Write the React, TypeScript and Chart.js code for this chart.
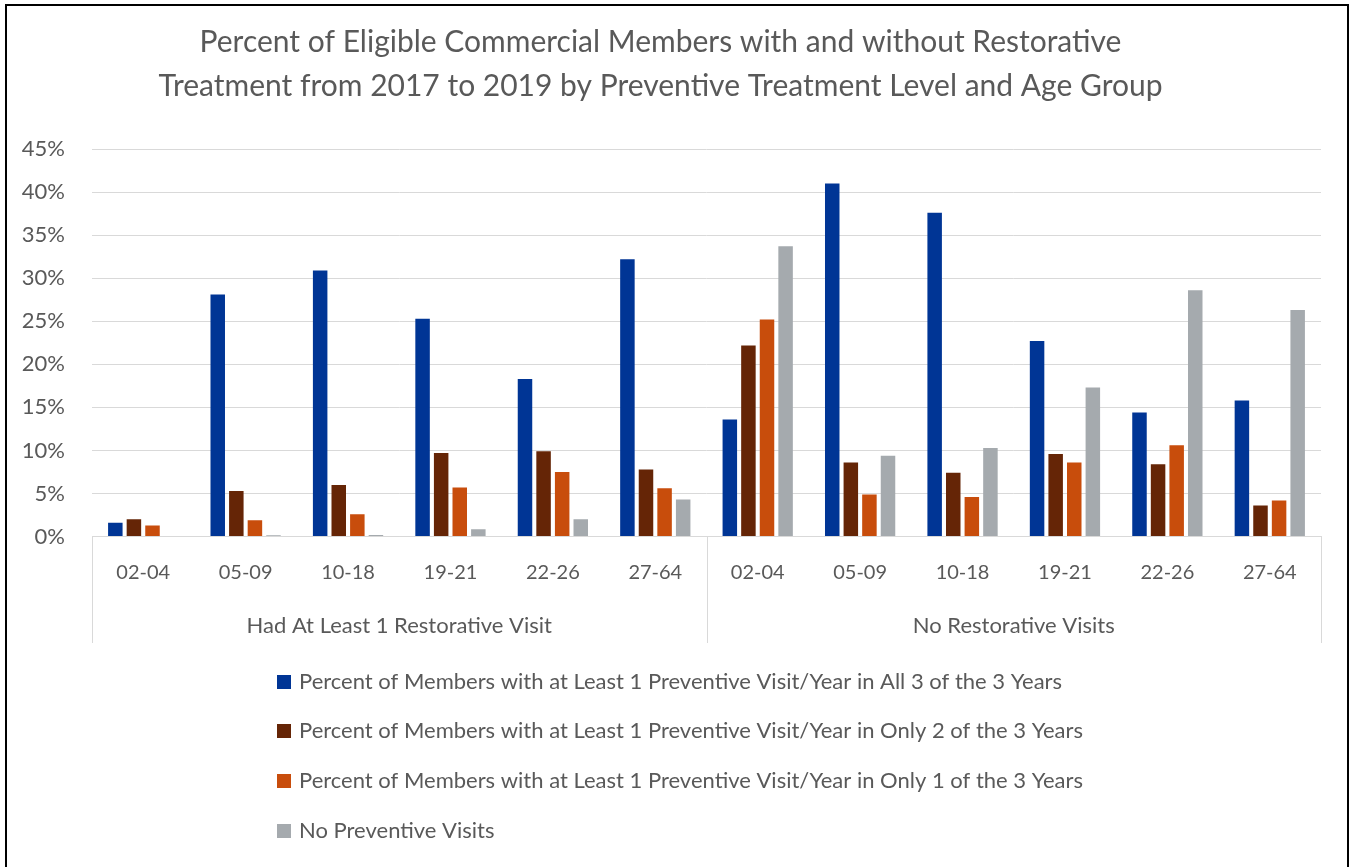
import React, { useEffect, useRef } from "react";
import { Chart, registerables } from "chart.js";

Chart.register(...registerables);

const titleLines = [
  "Percent of Eligible Commercial Members with and without Restorative",
  "Treatment from 2017 to 2019 by Preventive Treatment Level and Age Group",
];
const groups = ["Had At Least 1 Restorative Visit", "No Restorative Visits"];
const ageGroups = ["02-04", "05-09", "10-18", "19-21", "22-26", "27-64"];
const categories = [...ageGroups, ...ageGroups];

const seriesNames = [
  "Percent of Members with at Least 1 Preventive Visit/Year in All 3 of the 3 Years",
  "Percent of Members with at Least 1 Preventive Visit/Year in Only 2 of the 3 Years",
  "Percent of Members with at Least 1 Preventive Visit/Year in Only 1 of the 3 Years",
  "No Preventive Visits",
];
const allThreeYears = [1.6, 28.1, 30.9, 25.3, 18.3, 32.2, 13.6, 41.0, 37.6, 22.7, 14.4, 15.8];
const onlyTwoYears = [2.0, 5.3, 6.0, 9.7, 9.9, 7.8, 22.2, 8.6, 7.4, 9.6, 8.4, 3.6];
const onlyOneYear = [1.3, 1.9, 2.6, 5.7, 7.5, 5.6, 25.2, 4.9, 4.6, 8.6, 10.6, 4.2];
const noPreventive = [0, 0.15, 0.2, 0.85, 2.0, 4.3, 33.7, 9.4, 10.3, 17.3, 28.6, 26.3];
const yTicks = [0, 5, 10, 15, 20, 25, 30, 35, 40, 45];

const seriesColors = ["#003595", "#652506", "#C84D0C", "#A5AAAE"];
const FONT = "Lato";
const TEXT = "#595959";
const GRID = "#D9D9D9";

const decorPlugin = {
  id: "decor",
  beforeDraw(chart: any) {
    const ctx = chart.ctx;
    ctx.save();
    ctx.fillStyle = "#ffffff";
    ctx.fillRect(0, 0, chart.width, chart.height);
    ctx.restore();
  },
  afterDraw(chart: any) {
    const ctx = chart.ctx;
    const area = chart.chartArea;
    const xs = chart.scales.x;
    ctx.save();
    // group separators
    ctx.strokeStyle = GRID;
    ctx.lineWidth = 1;
    const mid = (xs.getPixelForValue(5) + xs.getPixelForValue(6)) / 2;
    [area.left, mid, area.right].forEach((px: number) => {
      const x = Math.round(px) + 0.5;
      ctx.beginPath();
      ctx.moveTo(x, area.bottom);
      ctx.lineTo(x, 643);
      ctx.stroke();
    });
    // legend
    const rows = [682, 731, 781, 831];
    ctx.font = `22px ${FONT}`;
    ctx.textBaseline = "middle";
    ctx.textAlign = "left";
    chart.data.datasets.forEach((ds: any, i: number) => {
      ctx.fillStyle = ds.backgroundColor;
      ctx.fillRect(277, rows[i] - 7, 14, 14);
      ctx.fillStyle = TEXT;
      ctx.fillText(ds.label, 299, rows[i]);
    });
    // outer frame
    ctx.strokeStyle = "#000000";
    ctx.lineWidth = 2;
    ctx.strokeRect(6, 5, 1342, 900);
    ctx.restore();
  },
};

export default function App() {
  const ref = useRef<HTMLCanvasElement | null>(null);
  useEffect(() => {
    document.body.style.margin = "0";
    const canvas = ref.current;
    if (!canvas) return;
    const datasetsData = [allThreeYears, onlyTwoYears, onlyOneYear, noPreventive];
    const chart = new Chart(canvas, {
      type: "bar",
      data: {
        labels: categories,
        datasets: datasetsData.map((d, i) => ({
          label: seriesNames[i],
          data: d,
          backgroundColor: seriesColors[i],
          borderWidth: 0,
          xAxisID: "x",
          yAxisID: "y",
          categoryPercentage: 0.726,
          barPercentage: 0.78,
        })),
      },
      options: {
        responsive: false,
        animation: false,
        layout: { padding: { left: 0, right: 30, top: 0, bottom: 224 } },
        plugins: {
          legend: { display: false },
          tooltip: { enabled: false },
          title: {
            display: true,
            text: titleLines,
            color: TEXT,
            font: { family: FONT, size: 30, weight: "normal", lineHeight: 1.45 },
            padding: { top: 21, bottom: 41 },
          },
        },
        scales: {
          x: {
            type: "category",
            position: "bottom",
            weight: 0,
            grid: { display: false, drawTicks: false },
            border: { display: true, color: GRID, width: 1 },
            ticks: {
              color: TEXT,
              font: { family: FONT, size: 20 },
              padding: 24,
              maxRotation: 0,
              autoSkip: false,
            },
          },
          x2: {
            type: "category",
            position: "bottom",
            weight: 1,
            labels: groups,
            grid: { display: false, drawTicks: false },
            border: { display: false },
            ticks: {
              color: TEXT,
              font: { family: FONT, size: 22 },
              padding: 4,
              maxRotation: 0,
              autoSkip: false,
            },
          },
          y: {
            min: 0,
            max: 45,
            afterFit: (scale: any) => {
              scale.width = 92;
            },
            afterBuildTicks: (scale: any) => {
              scale.ticks = yTicks.map((v) => ({ value: v }));
            },
            grid: { color: GRID, drawTicks: false, lineWidth: 1 },
            border: { display: false },
            ticks: {
              color: TEXT,
              font: { family: FONT, size: 22 },
              padding: 27,
              callback: (v: any) => `${v}%`,
            },
          },
        },
      },
      plugins: [decorPlugin],
    });
    return () => chart.destroy();
  }, []);
  return (
    <div style={{ position: "absolute", left: 0, top: 0 }}>
      <canvas ref={ref} width={1351} height={867} />
    </div>
  );
}
